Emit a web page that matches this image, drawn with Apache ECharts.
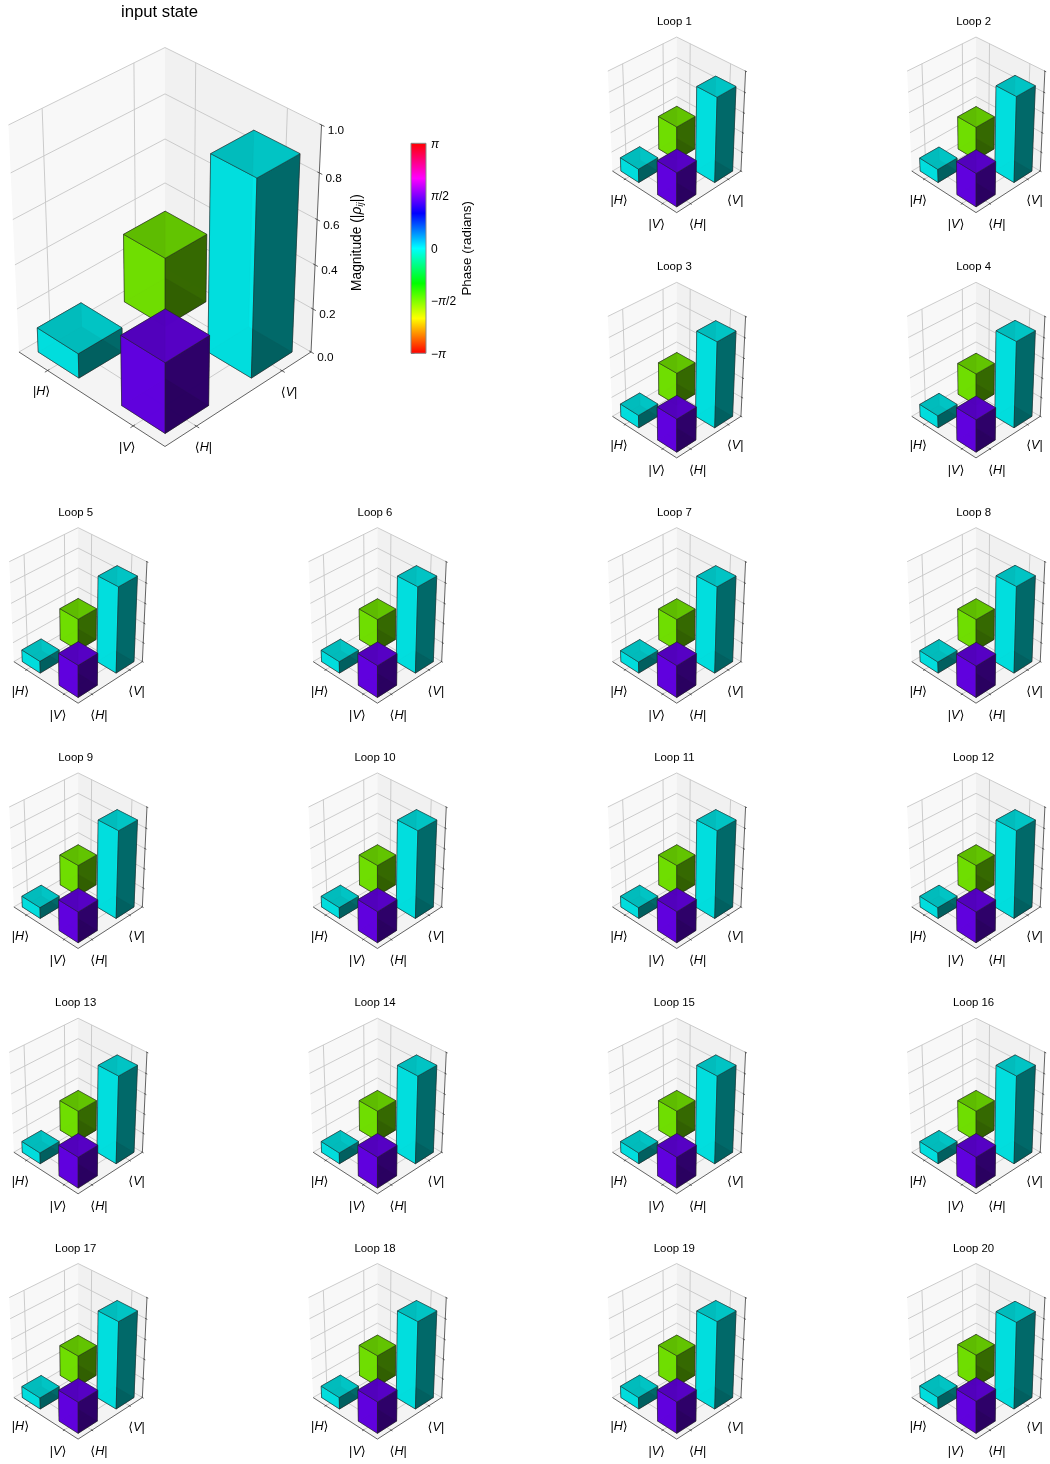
<!DOCTYPE html>
<html><head><meta charset="utf-8">
<style>html,body{margin:0;padding:0;background:#fff}#c{width:1050px;height:1464px}</style>
<script src="https://cdn.jsdelivr.net/npm/echarts@6/dist/echarts.min.js"></script>
</head><body><div id="c"></div>
<script>
// ---- values: index 0 = input state, 1..20 = loops ----
const panelTitles = ['input state','Loop 1','Loop 2','Loop 3','Loop 4','Loop 5','Loop 6','Loop 7','Loop 8','Loop 9','Loop 10',
  'Loop 11','Loop 12','Loop 13','Loop 14','Loop 15','Loop 16','Loop 17','Loop 18','Loop 19','Loop 20'];
const rhoHH = [.113,.141,.138,.131,.127,.124,.121,.117,.117,.114,.114,.114,.114,.114,.114,.114,.114,.117,.121,.121,.124];
const rhoVV = [.881,.855,.862,.862,.865,.865,.865,.865,.868,.878,.878,.878,.878,.878,.878,.878,.878,.875,.875,.875,.868];
const rhoHV = [.317,.346,.343,.336,.329,.329,.326,.326,.326,.319,.319,.319,.319,.315,.315,.315,.315,.319,.322,.322,.329];
const rhoVH = [.319,.349,.342,.339,.332,.329,.326,.326,.322,.316,.319,.319,.316,.316,.316,.316,.316,.319,.322,.322,.329];
const phaseHH = 0, phaseVV = 0, phaseHV = -1.57, phaseVH = 1.5;
const kets = ['H','V'];
const zTicks = [0,.2,.4,.6,.8,1];
const phaseStops = [-Math.PI,-2*Math.PI/3,-Math.PI/3,0,Math.PI/3,2*Math.PI/3,Math.PI];

// ---- view of the 3-D box ----
const ELEV = 34*Math.PI/180, sinE = Math.sin(ELEV), cosE = Math.cos(ELEV);
const R = .0697, H = .062, FX = 2168, FY = 2206;
const RX = .076, RY = .1;
const TICK_AT = [.2055,.792];
const BAR_LO = [.066,.647], BAR_W = .288;
const SMALL_K = .44;
const COL_X = [78.1,377.4,676.7,976], ROW0_Y = 122.8, ROW_STEP = 245.3;
const FONT = '"Liberation Sans","DejaVu Sans",sans-serif';

function project(u,w,m){
  const s=R*(u-w), t=R*(u+w-1), z=H*(2*m-1), d=1-s*cosE-z*sinE;
  return [t/d,(z*cosE-s*sinE)/d];
}
function hueRgb(ph){
  const h=((ph+Math.PI)/(2*Math.PI))*6, i=Math.floor(h)%6, f=h-Math.floor(h);
  return [[1,f,0],[1-f,1,0],[0,1,f],[0,1-f,1],[f,0,1],[1,0,1-f]][i];
}
function rgb(c,k){return 'rgb('+c.map(v=>Math.round(v*255*k)).join(',')+')';}

const panels = panelTitles.map((t,i)=>{
  if(i===0) return {cx:165,cy:242.4,k:1};
  let col,row;
  if(i<=4){col=2+(i-1)%2;row=Math.floor((i-1)/2);}
  else{col=(i-5)%4;row=2+Math.floor((i-5)/4);}
  return {cx:COL_X[col],cy:ROW0_Y+ROW_STEP*row,k:SMALL_K};
});

const grids=[],xAxes=[],yAxes=[],titles=[],series=[];

function ketLabel(kind,name){
  return kind==='ket' ? '|{i|'+name+'}\u27E9' : '\u27E8{i|'+name+'}|';
}
function textEl(x,y,text,size,extra){
  return Object.assign({type:'text',x:x,y:y,silent:true,style:{text:text,fontSize:size,fontFamily:FONT,fill:'#000',align:'center',verticalAlign:'middle',
    rich:{i:{fontStyle:'italic',fontSize:size,fontFamily:FONT,fill:'#000'},s:{fontStyle:'italic',fontSize:size*.7,fontFamily:FONT,fill:'#000',verticalAlign:'bottom',padding:[6,0,0,0]},r:{fontStyle:'italic',fontSize:size,fontFamily:FONT,fill:'#000'}}}},extra||{});
}

function boxRender(isMain){
  return function(params,api){
    const P=(u,w,m)=>api.coord(project(u,w,m));
    const poly=(pts,fill)=>({type:'polygon',silent:true,shape:{points:pts},style:{fill:fill,stroke:null}});
    const line=(a,b,col,lw)=>({type:'line',silent:true,shape:{x1:a[0],y1:a[1],x2:b[0],y2:b[1]},style:{stroke:col,lineWidth:lw}});
    const GRID='#c6c6c6',AX='#3c3c3c',ch=[];
    ch.push(poly([P(0,0,0),P(0,1,0),P(0,1,1),P(0,0,1)],'#f8f8f8'));
    ch.push(poly([P(0,1,0),P(1,1,0),P(1,1,1),P(0,1,1)],'#f1f1f1'));
    ch.push(poly([P(0,0,0),P(1,0,0),P(1,1,0),P(0,1,0)],'#f4f4f4'));
    zTicks.forEach(z=>{ch.push(line(P(0,0,z),P(0,1,z),GRID,.9));ch.push(line(P(0,1,z),P(1,1,z),GRID,.9));});
    TICK_AT.forEach(a=>{
      ch.push(line(P(0,a,0),P(0,a,1),GRID,.9));
      ch.push(line(P(a,1,0),P(a,1,1),GRID,.9));
      ch.push(line(P(a,0,0),P(a,1,0),GRID,.9));
      ch.push(line(P(0,a,0),P(1,a,0),GRID,.9));
    });
    ch.push(line(P(0,0,0),P(1,0,0),AX,.8));
    ch.push(line(P(1,0,0),P(1,1,0),AX,.8));
    ch.push(line(P(1,1,0),P(1,1,1),AX,.8));
    TICK_AT.forEach((a,i)=>{
      ch.push(line(P(a,-.018,0),P(a,.012,0),AX,.8));
      ch.push(line(P(.988,a,0),P(1.018,a,0),AX,.8));
      const k=P(a,0,0), b=P(1,a,0);
      ch.push(textEl(k[0]-6,k[1]+21.3,ketLabel('ket',kets[i]),12.6));
      ch.push(textEl(b[0]+7,b[1]+21.3,ketLabel('bra',kets[i]),12.6));
    });
    zTicks.forEach(z=>{
      const p=P(1,1,z);
      ch.push(line(P(.988,1,z),P(1.018,1,z),AX,.8));
      if(isMain) ch.push(textEl(p[0]+14.3,p[1]+5.8,z.toFixed(1),11.8));
    });
    if(isMain){
      const o=api.coord([0,0]);
      ch.push(textEl(o[0]+192,o[1]+.2,'Magnitude (|{r|\u03C1}{s|ij}|)',13.8,{rotation:Math.PI/2}));
    }
    return {type:'group',children:ch};
  };
}
function barRender(params,api){
  const iu=api.value(0), iw=api.value(1), m=api.value(2), c=hueRgb(api.value(3));
  const u0=BAR_LO[iu],u1=u0+BAR_W,w0=BAR_LO[iw],w1=w0+BAR_W;
  const P=(u,w,z)=>api.coord(project(u,w,z));
  const face=(pts,k)=>({type:'polygon',silent:true,shape:{points:pts},style:{fill:rgb(c,k),stroke:'#222',lineWidth:.5,opacity:.93}});
  return {type:'group',children:[
    face([P(u0,w0,0),P(u1,w0,0),P(u1,w1,0),P(u0,w1,0)],.35),
    face([P(u0,w0,0),P(u0,w1,0),P(u0,w1,m),P(u0,w0,m)],.42),
    face([P(u0,w1,0),P(u1,w1,0),P(u1,w1,m),P(u0,w1,m)],.88),
    face([P(u0,w0,0),P(u1,w0,0),P(u1,w0,m),P(u0,w0,m)],.90),
    face([P(u1,w0,0),P(u1,w1,0),P(u1,w1,m),P(u1,w0,m)],.375),
    face([P(u0,w0,m),P(u1,w0,m),P(u1,w1,m),P(u0,w1,m)],.76)
  ]};
}

panels.forEach((p,i)=>{
  const w=2*RX*FX*p.k, h=2*RY*FY*p.k;
  grids.push({left:p.cx-w/2,top:p.cy-h/2,width:w,height:h,containLabel:false,show:false});
  xAxes.push({gridIndex:i,type:'value',min:-RX,max:RX,show:false});
  yAxes.push({gridIndex:i,type:'value',min:-RY,max:RY,show:false});
  const main=i===0, fs=main?16.7:11.4, ty=main?12.5:22.4+ROW_STEP*Math.round((p.cy-ROW0_Y)/ROW_STEP);
  titles.push({text:panelTitles[i],left:p.cx+(main?-5.5:-2.4),top:ty-fs/2-.5,textAlign:'center',padding:0,
    textStyle:{fontSize:fs,fontWeight:'normal',color:'#000',fontFamily:FONT,lineHeight:fs}});
  series.push({type:'custom',xAxisIndex:i,yAxisIndex:i,silent:true,animation:false,clip:false,encode:{x:0,y:1},z:1,
    renderItem:boxRender(main),data:[[0,0]]});
  series.push({type:'custom',xAxisIndex:i,yAxisIndex:i,silent:true,animation:false,clip:false,encode:{x:0,y:1},z:2,
    renderItem:barRender,
    data:[[0,1,rhoHV[i],phaseHV],[0,0,rhoHH[i],phaseHH],[1,1,rhoVV[i],phaseVV],[1,0,rhoVH[i],phaseVH]]});
});

// colour bar
const cbi=panels.length;
grids.push({left:411,top:143.3,width:15,height:210,show:true,borderColor:'#8a8a8a',borderWidth:1,backgroundColor:'transparent',containLabel:false,z:3});
xAxes.push({gridIndex:cbi,type:'value',min:0,max:1,show:false});
yAxes.push({gridIndex:cbi,type:'value',position:'right',min:-Math.PI,max:Math.PI,interval:Math.PI/2,
  name:'Phase (radians)',nameLocation:'middle',nameRotate:90,nameGap:35,
  nameTextStyle:{fontSize:13.4,color:'#000',fontFamily:FONT},
  axisLine:{show:false},splitLine:{show:false},
  axisTick:{show:true,length:3.5,inside:false,lineStyle:{color:'#333',width:.8}},
  axisLabel:{show:true,margin:5,align:'left',fontSize:12,color:'#000',fontFamily:FONT,hideOverlap:false,showMinLabel:true,showMaxLabel:true,padding:[2,0,0,0],
    rich:{i:{fontStyle:'italic',fontSize:12,color:'#000',fontFamily:FONT}},
    formatter:v=>{const r=Math.round(v/(Math.PI/2));return {'-2':'\u2212{i|\u03C0}','-1':'\u2212{i|\u03C0}/2','0':'0','1':'{i|\u03C0}/2','2':'{i|\u03C0}'}[r];}}});
series.push({type:'custom',xAxisIndex:cbi,yAxisIndex:cbi,silent:true,animation:false,encode:{x:0,y:1},z:2,data:[[0,-Math.PI,1,Math.PI]],
  renderItem:(params,api)=>{
    const a=api.coord([api.value(0),api.value(1)]), b=api.coord([api.value(2),api.value(3)]);
    return {type:'rect',shape:{x:a[0],y:b[1],width:b[0]-a[0],height:a[1]-b[1]},
      style:{fill:new echarts.graphic.LinearGradient(0,1,0,0,phaseStops.map((ph,i)=>({offset:i/(phaseStops.length-1),color:rgb(hueRgb(ph===Math.PI?-Math.PI:ph),1)})))}};
  }});

const chart=echarts.init(document.getElementById('c'),null,{renderer:'canvas',width:1050,height:1464});
chart.setOption({animation:false,backgroundColor:'#fff',title:titles,grid:grids,xAxis:xAxes,yAxis:yAxes,series:series,tooltip:{show:false}});
</script></body></html>
